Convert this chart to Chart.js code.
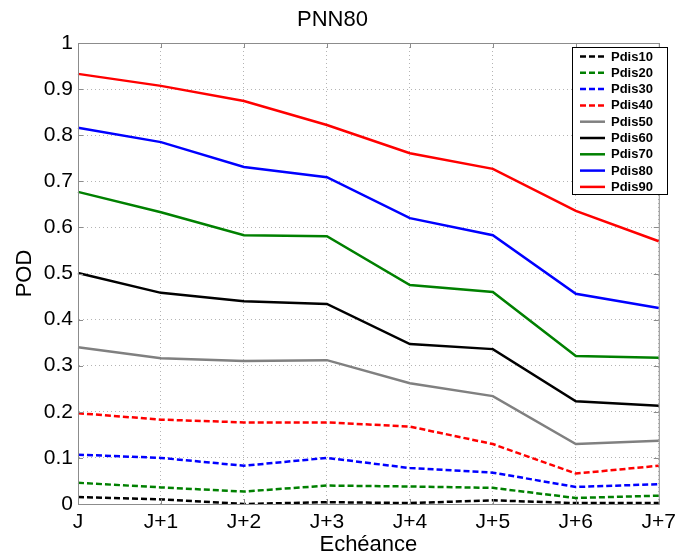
<!DOCTYPE html>
<html lang="fr">
<head>
    <meta charset="UTF-8">
    <title>PNN80</title>
    <style>
        html, body {
            margin: 0;
            padding: 0;
            background: white;
        }
        .container {
            width: 682px;
            height: 556px;
        }
    </style>
    <script src="https://cdn.jsdelivr.net/npm/chart.js"></script>
</head>
<body>
    <div class="container">
        <canvas id="podChart" width="682" height="556"></canvas>
    </div>

    <script>
        // Data
        const echeances = ['J', 'J+1', 'J+2', 'J+3', 'J+4', 'J+5', 'J+6', 'J+7'];
        const yTickLabels = ['0', '0.1', '0.2', '0.3', '0.4', '0.5', '0.6', '0.7', '0.8', '0.9', '1'];

        const pdis10 = [0.015, 0.010, 0.000, 0.004, 0.002, 0.008, 0.002, 0.002];
        const pdis20 = [0.046, 0.036, 0.027, 0.040, 0.038, 0.035, 0.013, 0.018];
        const pdis30 = [0.107, 0.100, 0.083, 0.100, 0.078, 0.068, 0.037, 0.043];
        const pdis40 = [0.197, 0.183, 0.177, 0.177, 0.168, 0.130, 0.066, 0.083];
        const pdis50 = [0.340, 0.316, 0.310, 0.312, 0.262, 0.234, 0.130, 0.137];
        const pdis60 = [0.501, 0.458, 0.440, 0.434, 0.347, 0.336, 0.223, 0.213];
        const pdis70 = [0.677, 0.633, 0.583, 0.581, 0.475, 0.460, 0.321, 0.317];
        const pdis80 = [0.816, 0.785, 0.731, 0.709, 0.620, 0.583, 0.456, 0.425];
        const pdis90 = [0.933, 0.907, 0.874, 0.822, 0.761, 0.727, 0.636, 0.570];

        const FONT = '"Liberation Sans", Arial, Helvetica, sans-serif';
        const dash = [6, 3];

        function serie(label, data, color, dashed) {
            return {
                label: label,
                data: data,
                borderColor: color,
                backgroundColor: color,
                borderWidth: 2.5,
                borderDash: dashed ? dash : [],
                pointRadius: 0,
                tension: 0,
                fill: false
            };
        }

        // box around the plot, small inner ticks + legend drawn inside the axes (matlab style)
        const framePlugin = {
            id: 'frame',
            afterDraw(chart) {
                const c = chart.ctx;
                const a = chart.chartArea;
                const xs = chart.scales.x;
                const ys = chart.scales.y;
                c.save();
                c.strokeStyle = '#8c8c8c';
                c.lineWidth = 1;
                c.strokeRect(a.left + 0.5, a.top + 0.5, a.right - a.left, a.bottom - a.top);

                // inner tick marks
                c.beginPath();
                xs.ticks.forEach(function(t, i) {
                    const x = Math.round(xs.getPixelForTick(i)) + 0.5;
                    c.moveTo(x, a.bottom);
                    c.lineTo(x, a.bottom - 5);
                    c.moveTo(x, a.top);
                    c.lineTo(x, a.top + 5);
                });
                ys.ticks.forEach(function(t, i) {
                    const y = Math.round(ys.getPixelForTick(i)) + 0.5;
                    c.moveTo(a.left, y);
                    c.lineTo(a.left + 5, y);
                    c.moveTo(a.right, y);
                    c.lineTo(a.right - 5, y);
                });
                c.stroke();

                // legend
                const x0 = 572, y0 = 47, w = 95, h = 147;
                c.fillStyle = 'white';
                c.fillRect(x0, y0, w, h);
                c.strokeStyle = '#000';
                c.strokeRect(x0 + 0.5, y0 + 0.5, w, h);
                c.font = 'bold 13px ' + FONT;
                c.textBaseline = 'middle';
                chart.data.datasets.forEach(function(ds, i) {
                    const y = 56.5 + i * 16.3;
                    c.strokeStyle = ds.borderColor;
                    c.lineWidth = 2.5;
                    c.setLineDash(ds.borderDash);
                    c.beginPath();
                    c.moveTo(580, y);
                    c.lineTo(605, y);
                    c.stroke();
                    c.setLineDash([]);
                    c.fillStyle = '#000';
                    c.fillText(ds.label, 611, y + 0.5);
                });
                c.restore();
            }
        };

        const ctx = document.getElementById('podChart').getContext('2d');
        const podChart = new Chart(ctx, {
            type: 'line',
            data: {
                labels: echeances,
                datasets: [
                    serie('Pdis10', pdis10, '#000000', true),
                    serie('Pdis20', pdis20, '#008000', true),
                    serie('Pdis30', pdis30, '#0000ff', true),
                    serie('Pdis40', pdis40, '#ff0000', true),
                    serie('Pdis50', pdis50, '#808080', false),
                    serie('Pdis60', pdis60, '#000000', false),
                    serie('Pdis70', pdis70, '#008000', false),
                    serie('Pdis80', pdis80, '#0000ff', false),
                    serie('Pdis90', pdis90, '#ff0000', false)
                ]
            },
            options: {
                responsive: false,
                animation: false,
                layout: {
                    padding: { left: 0, right: 17, top: 0, bottom: 0 }
                },
                scales: {
                    x: {
                        offset: false,
                        grid: { color: '#b4b4b4', drawTicks: false },
                        border: { display: true, color: '#8c8c8c', dash: [1, 3] },
                        ticks: {
                            color: '#000',
                            font: { family: FONT, size: 21 },
                            padding: 6,
                            maxRotation: 0,
                            autoSkip: false
                        },
                        title: {
                            display: true,
                            text: 'Echéance',
                            color: '#000',
                            font: { family: FONT, size: 22 },
                            padding: { top: 0, bottom: -2 }
                        },
                        afterFit(scale) {
                            scale.height = 52;
                        }
                    },
                    y: {
                        min: 0,
                        max: 1,
                        grid: { color: '#b4b4b4', drawTicks: false },
                        border: { display: true, color: '#8c8c8c', dash: [1, 3] },
                        ticks: {
                            stepSize: 0.1,
                            color: '#000',
                            font: { family: FONT, size: 21 },
                            padding: 5,
                            callback: function(value, index) {
                                return yTickLabels[index];
                            }
                        },
                        title: {
                            display: true,
                            text: 'POD',
                            color: '#000',
                            font: { family: FONT, size: 22 },
                            padding: { top: 12, bottom: 0 }
                        },
                        afterFit(scale) {
                            scale.width = 78;
                        }
                    }
                },
                plugins: {
                    legend: { display: false },
                    tooltip: { enabled: false },
                    title: {
                        display: true,
                        text: 'PNN80',
                        color: '#000',
                        font: { family: FONT, size: 22, weight: 'normal' },
                        padding: { top: 7, bottom: 9.6 }
                    }
                }
            },
            plugins: [framePlugin]
        });
    </script>
</body>
</html>
